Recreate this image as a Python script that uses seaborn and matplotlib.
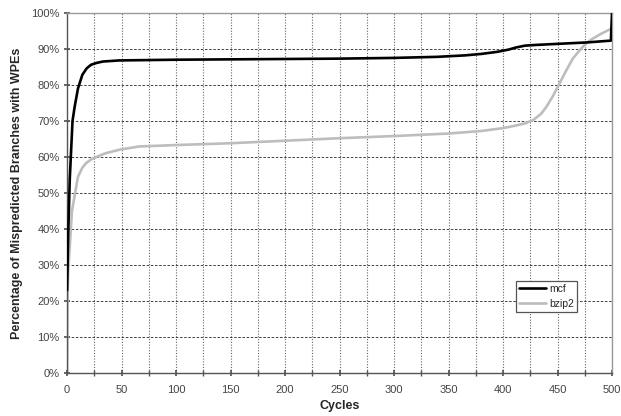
import matplotlib

matplotlib.use("Agg")

import matplotlib.pyplot as plt
import pandas as pd
import seaborn as sns
from matplotlib.ticker import FuncFormatter, MultipleLocator

# values (percent of mispredicted branches with WPEs)
mcf_cycles = [0, 1, 2.5, 5, 7, 10, 14, 18, 22, 27, 33, 48, 100, 150, 200, 250,
              300, 340, 365, 380, 395, 405, 412, 420, 430, 450, 477, 499, 500]
mcf_pct = [23, 38, 54, 70, 74, 79, 82.8, 84.6, 85.6, 86.1, 86.5, 86.8, 87.0,
           87.1, 87.2, 87.3, 87.5, 87.8, 88.2, 88.6, 89.2, 89.8, 90.4, 90.9,
           91.1, 91.4, 91.8, 92.3, 100]

bzip2_cycles = [0, 0.5, 1, 4.5, 10, 14, 17.5, 22, 27, 35, 48, 66, 100, 150,
                200, 250, 300, 350, 380, 400, 410, 420, 428, 435, 440, 446, 452,
                458, 464, 470, 476, 482, 490, 500]
bzip2_pct = [0, 22, 28, 45, 54.5, 57, 58.3, 59.3, 60, 61, 62, 62.9, 63.3, 63.8,
             64.5, 65.2, 65.8, 66.5, 67.2, 68, 68.6, 69.3, 70.3, 72, 74, 77,
             80.5, 84, 87.3, 89.5, 91.5, 92.8, 94.2, 95.7]

series_names = ["mcf", "bzip2"]

frames = [
    pd.DataFrame({"cycles": mcf_cycles, "pct": mcf_pct, "bench": "mcf"}),
    pd.DataFrame({"cycles": bzip2_cycles, "pct": bzip2_pct, "bench": "bzip2"}),
]
data = pd.concat(frames, ignore_index=True)

sns.set_theme(style="white")
plt.rcParams["font.family"] = ["Liberation Sans", "DejaVu Sans"]

fig, ax = plt.subplots(figsize=(6.21, 4.16), dpi=100)
fig.subplots_adjust(left=0.108, right=0.9855, top=0.969, bottom=0.1034)

palette = {"mcf": "#000000", "bzip2": "#bdbdbd"}
sns.lineplot(
    data=data,
    x="cycles",
    y="pct",
    hue="bench",
    hue_order=series_names,
    palette=palette,
    linewidth=1.9,
    estimator=None,
    sort=False,
    ax=ax,
)
# keep mcf on top
for line in ax.lines:
    if line.get_color() == "#000000":
        line.set_zorder(4)

ax.set_xlim(0, 500)
ax.set_ylim(0, 100)
ax.xaxis.set_major_locator(MultipleLocator(50))
ax.xaxis.set_minor_locator(MultipleLocator(25))
ax.yaxis.set_major_locator(MultipleLocator(10))
ax.yaxis.set_major_formatter(FuncFormatter(lambda v, _: f"{v:.0f}%"))

ax.grid(axis="y", which="major", color="#222222", linestyle=(0, (3, 2)), linewidth=0.6)
ax.grid(axis="x", which="both", color="#666666", linestyle=(0, (1, 1.5)), linewidth=0.8)
ax.set_axisbelow(True)

for side in ["top", "right"]:
    ax.spines[side].set_color("#9a9a9a")
    ax.spines[side].set_linewidth(1)
for side in ["left", "bottom"]:
    ax.spines[side].set_color("#555555")
    ax.spines[side].set_linewidth(1)

ax.tick_params(axis="both", which="both", direction="inout", color="#555555",
               labelcolor="#444444", labelsize=8)
ax.tick_params(axis="x", which="major", length=5, pad=6)
ax.tick_params(axis="x", which="minor", length=5)
ax.tick_params(axis="y", which="major", length=5, left=True, pad=3)
ax.tick_params(axis="x", which="both", bottom=True)

ax.set_xlabel("Cycles", fontsize=9, fontweight="bold", labelpad=4)
ax.set_ylabel("Percentage of Mispredicted Branches with WPEs", fontsize=9,
              fontweight="bold", labelpad=6)

handles, labels = ax.get_legend_handles_labels()
leg = ax.legend(
    handles,
    labels,
    loc="upper left",
    bbox_to_anchor=(0.824, 0.256),
    fontsize=7.5,
    frameon=True,
    fancybox=False,
    edgecolor="#555555",
    framealpha=1,
    handlelength=2.6,
    handletextpad=0.3,
    borderpad=0.3,
    labelspacing=0.5,
    borderaxespad=0,
)
leg.get_frame().set_linewidth(0.9)

fig.savefig("out.png", dpi=100)
plt.close(fig)
